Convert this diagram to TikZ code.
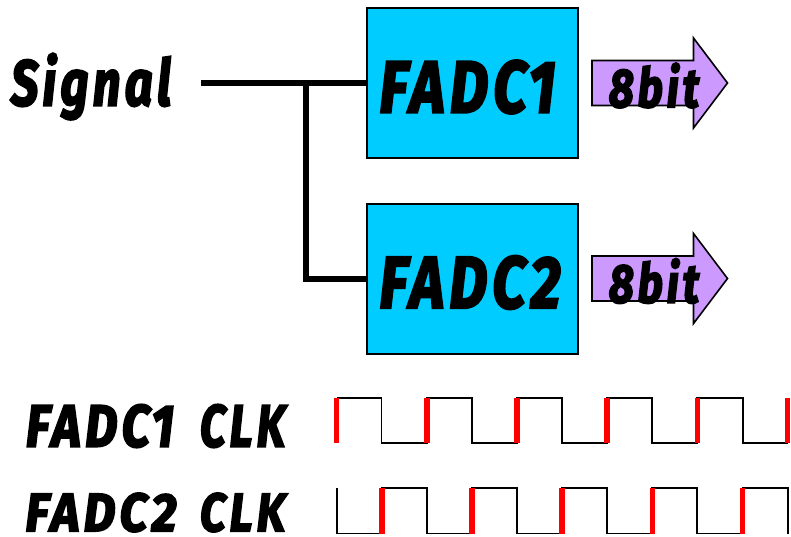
\documentclass[tikz,border=0pt]{standalone}
\usepackage{fontspec}
\usepackage{graphicx}
\setmainfont{Fira Sans}[ItalicFont={Fira Sans Bold Italic}]
\definecolor{fadcblue}{HTML}{00CCFF}
\definecolor{bitpurple}{HTML}{CC99FF}
\newcommand{\fittext}[3]{\resizebox{#1pt}{#2pt}{\addfontfeatures{FakeBold=3.6,LetterSpace=9}\itshape #3}}
\tikzset{
  fadcbox/.style={draw=black,line width=1.8pt,fill=fadcblue,minimum width=211pt,minimum height=150pt,inner sep=0pt,anchor=north west},
  label text/.style={inner sep=0pt,text=black},
  wire/.style={draw=black,line width=5.6pt},
  bitarrow/.style={draw=black,line width=1.6pt,fill=bitpurple,line join=miter},
  clockline/.style={draw=black,line width=1.8pt,line join=miter},
  clockedge/.style={draw=red,line width=5.4pt},
}
\begin{document}
\begin{tikzpicture}[x=1pt,y=-1pt]
\useasboundingbox (0,0) rectangle (791,536);
% boxes
\node[fadcbox] (f1) at (365.8,7.2) {};
\node[fadcbox] (f2) at (365.8,202.8) {};
% signal wires
\coordinate (sigstart) at (201,0 |- f1.west);
\coordinate (junction) at (306,0 |- f1.west);
\draw[wire] (sigstart) -- (f1.west);
\draw[wire,line join=miter] (junction) |- (f2.west);
% output arrows
\draw[bitarrow] (592,60.5) -- (693.5,60.5) -- (693.5,38) -- (727.5,83) -- (693.5,128) -- (693.5,105.5) -- (592,105.5) -- cycle;
\draw[bitarrow] (592,256) -- (693.5,256) -- (693.5,233.5) -- (727.5,278.5) -- (693.5,323.5) -- (693.5,301) -- (592,301) -- cycle;
% texts
\node[label text] (sig) at (91,86.5) {\fittext{160}{52}{Signal}};
\node[label text] (t1) at (467.5,87) {\fittext{176}{52}{FADC1}};
\node[label text] (t2) at (470,282.5) {\fittext{181}{52}{FADC2}};
\node[label text] (b1) at (654,85.5) {\fittext{90}{44}{8bit}};
\node[label text] (b2) at (654,281) {\fittext{90}{44}{8bit}};
\node[label text] (c1) at (100,426) {\fittext{148}{42}{FADC1}};
\node[label text] (c1b) at (242.5,426) {\fittext{85}{42}{CLK}};
\node[label text] (c2) at (101,512.5) {\fittext{151}{38}{FADC2}};
\node[label text] (c2b) at (242.5,512.5) {\fittext{85}{38}{CLK}};
% clock 1
\coordinate (ca) at (337,398.2);
\draw[clockline] (ca) -- (381.5,398.2) -- (381.5,443.2) -- (427,443.2) -- (427,398.2) -- (472,398.2) -- (472,443.2) -- (517,443.2) -- (517,398.2) -- (562,398.2) -- (562,443.2) -- (607,443.2) -- (607,398.2) -- (652.3,398.2) -- (652.3,443.2) -- (697.3,443.2) -- (697.3,398.2) -- (742.7,398.2) -- (742.7,443.2) -- (787.7,443.2);
\foreach \x in {336.5,427,517,607,697.3,787.7}
  \draw[clockedge] (\x,398.2) -- (\x,443.2);
% clock 2
\coordinate (cb) at (337,488.2);
\draw[clockline] (cb) -- (337,533.5) -- (382,533.5) -- (382,488.2) -- (427,488.2) -- (427,533.5) -- (472,533.5) -- (472,488.2) -- (517,488.2) -- (517,533.5) -- (562,533.5) -- (562,488.2) -- (607,488.2) -- (607,533.5) -- (652.3,533.5) -- (652.3,488.2) -- (697.3,488.2) -- (697.3,533.5) -- (742.7,533.5) -- (742.7,488.2) -- (787.7,488.2) -- (787.7,533.5);
\foreach \x in {382,472,562,652.3,742.7}
  \draw[clockedge] (\x,488.2) -- (\x,533.5);
\end{tikzpicture}
\end{document}
